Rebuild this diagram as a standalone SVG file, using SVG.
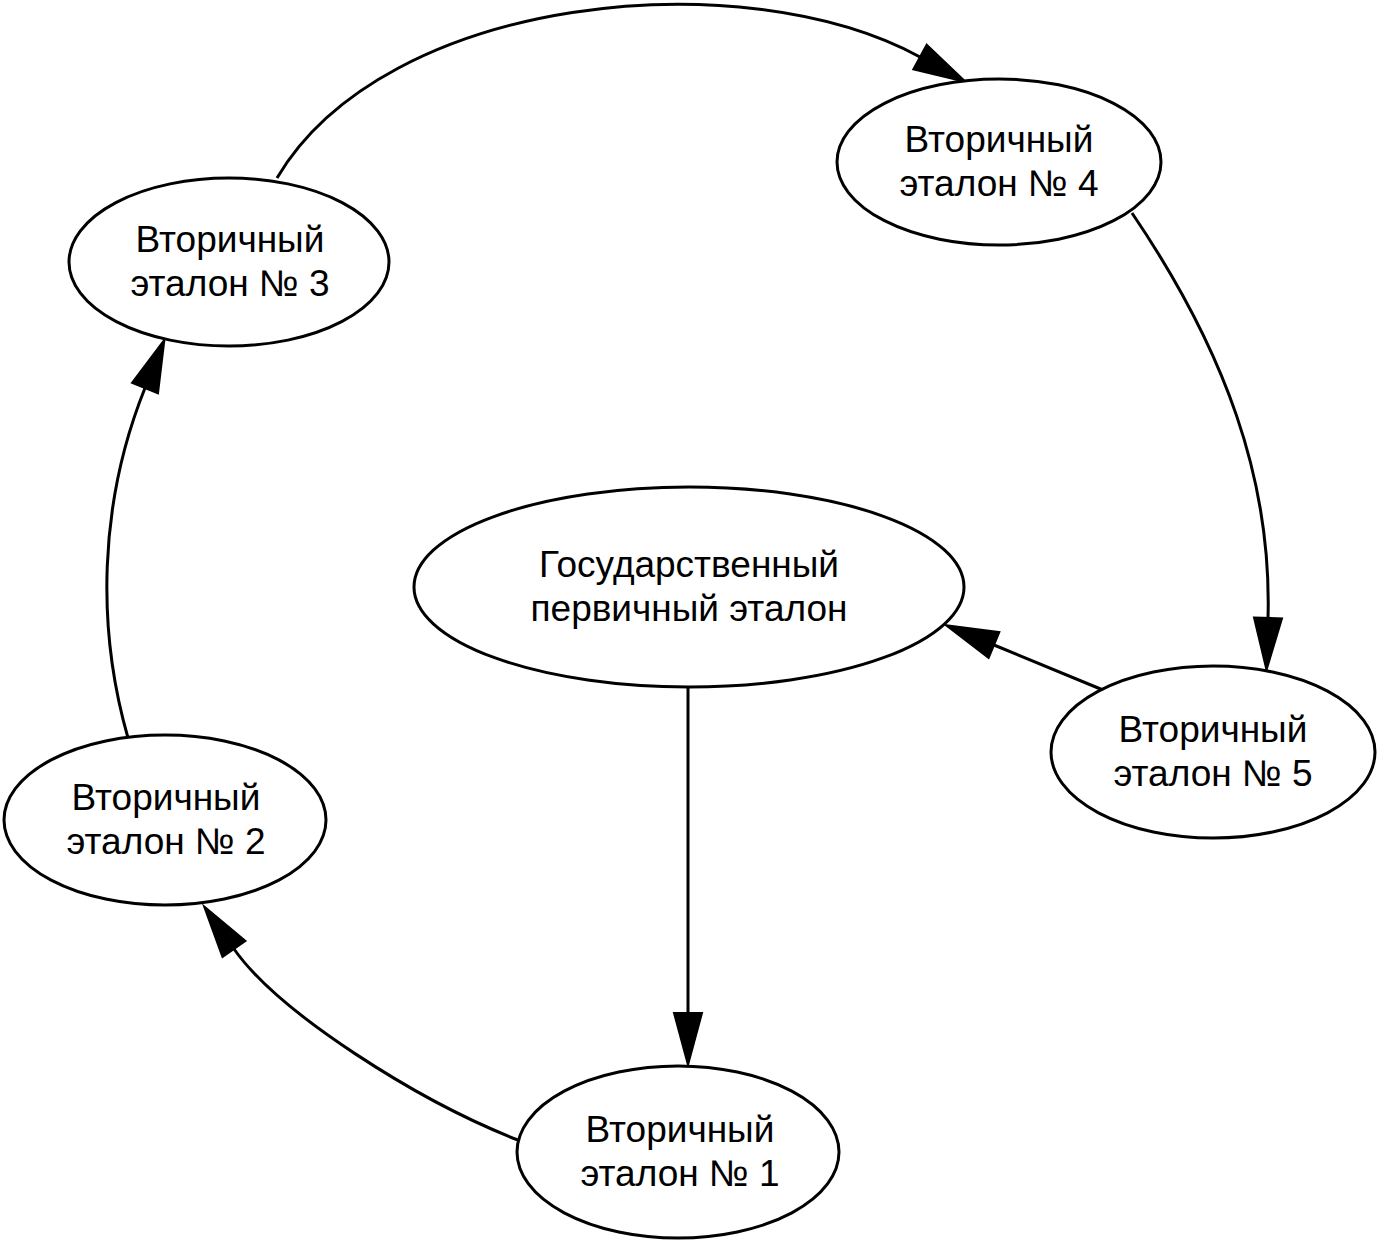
<svg xmlns="http://www.w3.org/2000/svg" width="1382" height="1244" viewBox="0 0 1382 1244">
<style>
.node ellipse{fill:#fff;stroke:#000;stroke-width:3}
.node text{font-family:"Liberation Sans",Arial,sans-serif;font-size:37px;fill:#000;text-anchor:middle}
.edge{fill:none;stroke:#000;stroke-width:3;marker-end:url(#arrow)}
</style>
<defs>
<marker id="arrow" markerUnits="userSpaceOnUse" viewBox="0 0 52 28" refX="0" refY="14" markerWidth="52" markerHeight="28" orient="auto" overflow="visible">
<path d="M0,0 L52,14 L0,28 z" fill="#000" stroke="#000" stroke-width="2" stroke-linejoin="miter"/>
</marker>
</defs>
<rect width="1382" height="1244" fill="#fff"/>
<g id="connectors">
<path class="edge" d="M688,688 L688,1013"/>
<path class="edge" d="M518,1140 C418,1101 279,1013 234,949"/>
<path class="edge" d="M128,738 C97,630 98,505 145,388"/>
<path class="edge" d="M277,178 C385,-5 742,-40 920,57"/>
<path class="edge" d="M1132,213 C1225,350 1272,480 1268,618"/>
<path class="edge" d="M1103,690 L994,645"/>
</g>
<g id="primary" class="node">
<ellipse cx="689" cy="587" rx="275" ry="100"/>
<text x="689" y="577">Государственный</text>
<text x="689" y="621">первичный эталон</text>
</g>
<g id="secondary1" class="node">
<ellipse cx="678" cy="1152" rx="161" ry="86"/>
<text x="680" y="1142">Вторичный</text>
<text x="680" y="1186">эталон № 1</text>
</g>
<g id="secondary2" class="node">
<ellipse cx="165" cy="820" rx="161" ry="85"/>
<text x="166" y="810">Вторичный</text>
<text x="166" y="854">эталон № 2</text>
</g>
<g id="secondary3" class="node">
<ellipse cx="229" cy="262" rx="160" ry="84"/>
<text x="230" y="252">Вторичный</text>
<text x="230" y="296">эталон № 3</text>
</g>
<g id="secondary4" class="node">
<ellipse cx="999" cy="162" rx="162" ry="83"/>
<text x="999" y="152">Вторичный</text>
<text x="999" y="196">эталон № 4</text>
</g>
<g id="secondary5" class="node">
<ellipse cx="1213" cy="752" rx="162" ry="86"/>
<text x="1213" y="742">Вторичный</text>
<text x="1213" y="786">эталон № 5</text>
</g>
</svg>
